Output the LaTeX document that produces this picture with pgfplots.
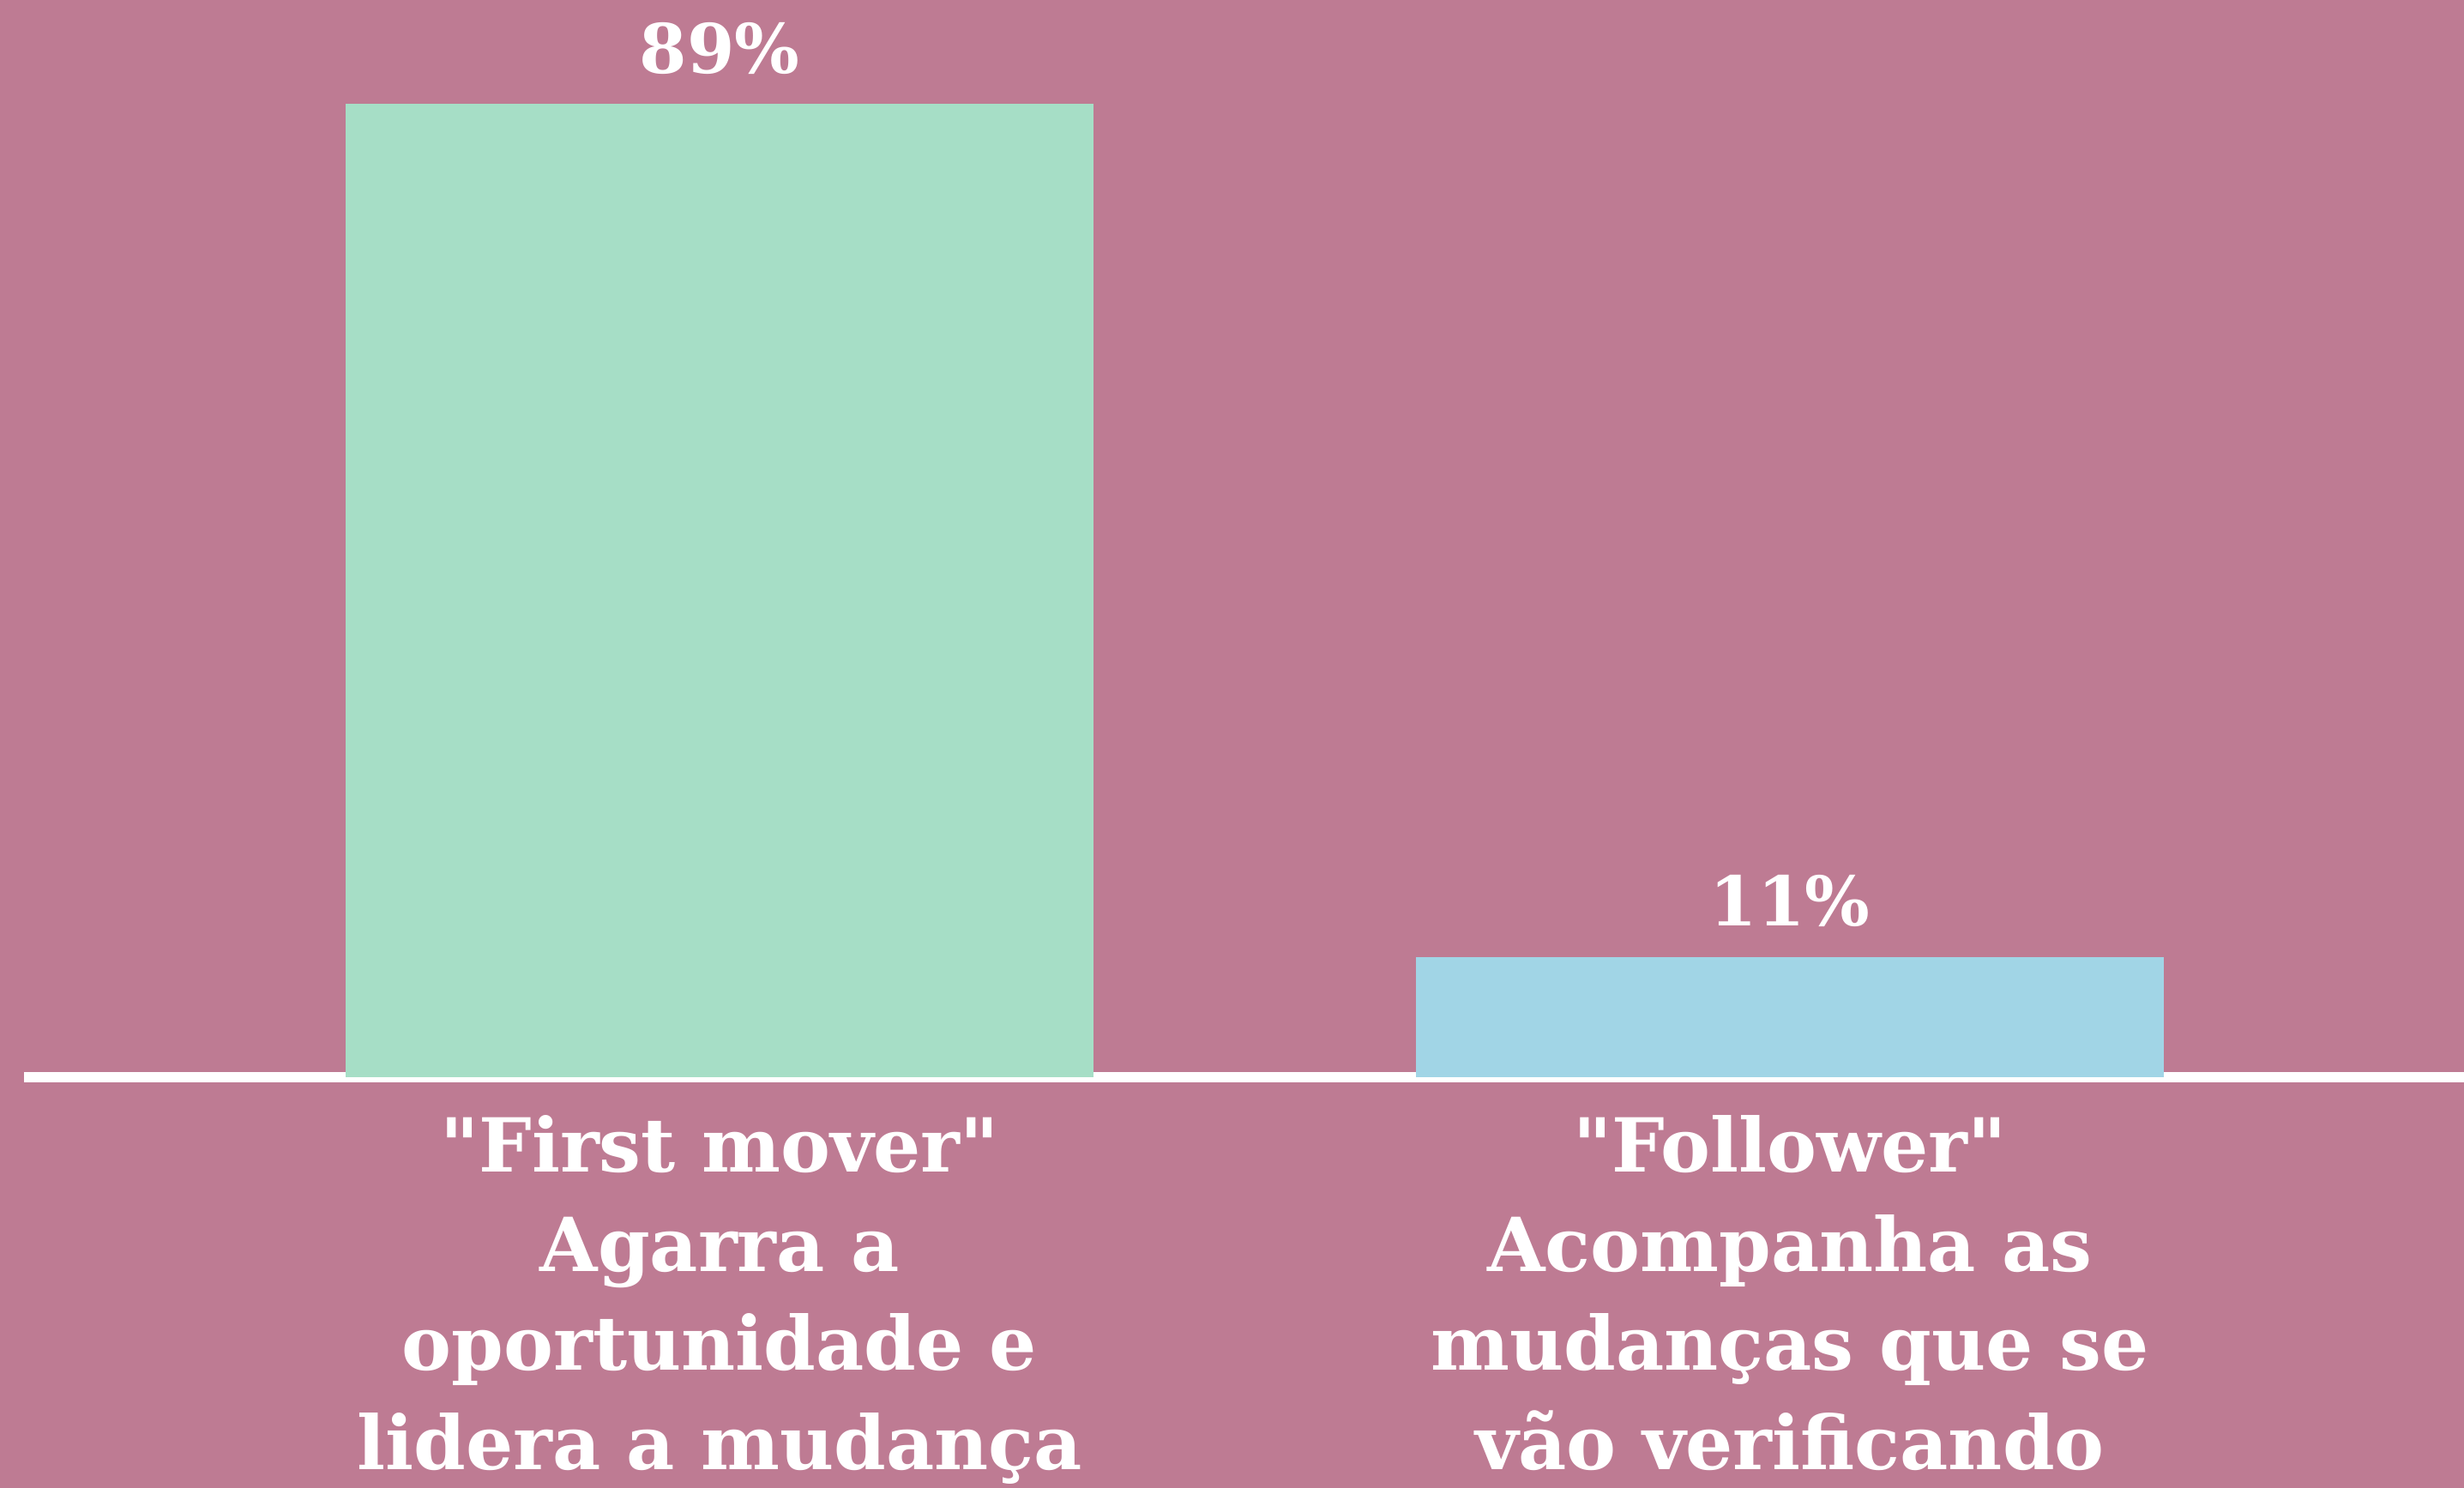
\documentclass[border=0pt]{standalone}
\usepackage{pgfplots}
\pgfplotsset{compat=1.18}
\usepackage{fontspec}
\setmainfont{DejaVu Serif}
\definecolor{bg}{HTML}{BE7B93}
\definecolor{mint}{HTML}{A6DEC6}
\definecolor{sky}{HTML}{A1D5E6}
\begin{document}
\begin{tikzpicture}
\path[use as bounding box, fill=bg] (0,0) rectangle (718.25bp,433.75bp);
\begin{axis}[
  at={(7bp,119.75bp)}, anchor=south west,
  scale only axis, width=711.25bp, height=314bp,
  xmin=-0.650, xmax=1.630, ymin=0, ymax=98.5,
  axis x line*=bottom, axis y line=none,
  x axis line style={white, line width=3bp, -},
  ytick=\empty, xtick={0,1},
  xticklabels={{\textquotedbl First mover\textquotedbl\\Agarra a\\oportunidade e\\lidera a mudança},{\textquotedbl Follower\textquotedbl\\Acompanha as\\mudanças que se\\vão verificando}},
  major tick length=0pt,
  xticklabel style={text=white, font=\bfseries\fontsize{21.8}{29}\selectfont, align=center, anchor=north, yshift=-11bp, inner sep=0pt},
  ybar, bar width=0.699, bar shift=0pt,
  /pgf/number format/assume math mode=true,
  nodes near coords={\pgfmathprintnumber{\pgfplotspointmeta}\%},
  every node near coord/.append style={text=white, font=\bfseries\fontsize{20}{24}\selectfont, anchor=base, yshift=9bp, inner sep=0pt},
  clip=false,
]
\addplot[fill=mint, draw=none] coordinates {(0,89)};
\addplot[fill=sky, draw=none] coordinates {(1,11)};
\end{axis}
\end{tikzpicture}
\end{document}
